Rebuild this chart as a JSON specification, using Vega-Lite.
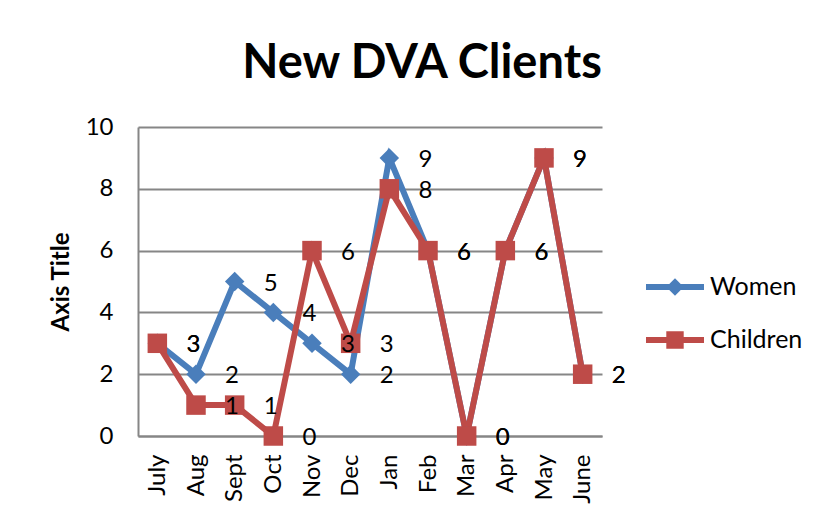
{
  "$schema": "https://vega.github.io/schema/vega-lite/v6.json",
  "width": 464,
  "height": 309,
  "autosize": {"type": "none"},
  "padding": {"left": 138, "top": 127, "right": 232, "bottom": 88},
  "background": "white",
  "title": {"text": "New DVA Clients", "font": "Lato", "fontSize": 47, "fontWeight": "bold", "color": "black", "anchor": "middle", "dx": 52, "offset": 27},
  "config": {
    "view": {"stroke": null},
    "font": "Lato",
    "text": {"font": "Lato"}
  },
  "data": {
    "values": [
      {"month": "July", "series": "Women", "value": 3},
      {"month": "Aug", "series": "Women", "value": 2},
      {"month": "Sept", "series": "Women", "value": 5},
      {"month": "Oct", "series": "Women", "value": 4},
      {"month": "Nov", "series": "Women", "value": 3},
      {"month": "Dec", "series": "Women", "value": 2},
      {"month": "Jan", "series": "Women", "value": 9},
      {"month": "Feb", "series": "Women", "value": 6},
      {"month": "Mar", "series": "Women", "value": 0},
      {"month": "Apr", "series": "Women", "value": 6},
      {"month": "May", "series": "Women", "value": 9},
      {"month": "June", "series": "Women", "value": 2},
      {"month": "July", "series": "Children", "value": 3},
      {"month": "Aug", "series": "Children", "value": 1},
      {"month": "Sept", "series": "Children", "value": 1},
      {"month": "Oct", "series": "Children", "value": 0},
      {"month": "Nov", "series": "Children", "value": 6},
      {"month": "Dec", "series": "Children", "value": 3},
      {"month": "Jan", "series": "Children", "value": 8},
      {"month": "Feb", "series": "Children", "value": 6},
      {"month": "Mar", "series": "Children", "value": 0},
      {"month": "Apr", "series": "Children", "value": 6},
      {"month": "May", "series": "Children", "value": 9},
      {"month": "June", "series": "Children", "value": 2}
    ]
  },
  "encoding": {
    "x": {
      "field": "month", "type": "ordinal",
      "sort": ["July", "Aug", "Sept", "Oct", "Nov", "Dec", "Jan", "Feb", "Mar", "Apr", "May", "June"],
      "scale": {"type": "point", "padding": 0.5},
      "axis": {"title": null, "labelAngle": -90, "labelFontSize": 24, "labelColor": "black", "labelFont": "Lato", "labelPadding": 18, "ticks": false, "domainColor": "#868686", "domainWidth": 2, "grid": false}
    },
    "y": {
      "field": "value", "type": "quantitative",
      "scale": {"domain": [0, 10], "nice": false},
      "axis": {"title": "Axis Title", "titleFontSize": 24, "titleFont": "Lato", "titleFontWeight": "bold", "titleColor": "black", "titlePadding": 12, "values": [0, 2, 4, 6, 8, 10], "labelFontSize": 24, "labelColor": "black", "labelFont": "Lato", "labelPadding": 25, "ticks": false, "grid": true, "gridColor": "#868686", "gridWidth": 2, "domainColor": "#868686", "domainWidth": 2}
    }
  },
  "layer": [
    {
      "mark": {"type": "line", "strokeWidth": 6},
      "encoding": {
        "color": {
          "field": "series", "type": "nominal",
          "scale": {"domain": ["Women", "Children"], "range": ["#4a7ebb", "#be4b48"]},
          "legend": {
            "title": null, "orient": "none", "legendX": 508, "legendY": 131,
            "labelFontSize": 25, "labelFont": "Lato", "labelColor": "black", "labelOffset": 6,
            "symbolSize": 3364, "rowPadding": 11,
            "encode": {
              "symbols": {
                "update": {
                  "shape": {"signal": "datum.value === 'Women' ? 'M-1,-0.1H1V0.1H-1Z M0,-0.3L0.3,0L0,0.3L-0.3,0Z' : 'M-1,-0.1H1V0.1H-1Z M-0.3,-0.3H0.3V0.3H-0.3Z'"},
                  "fill": {"signal": "datum.value === 'Women' ? '#4a7ebb' : '#be4b48'"},
                  "strokeWidth": {"value": 0},
                  "opacity": {"value": 1}
                }
              }
            }
          }
        }
      }
    },
    {
      "transform": [{"filter": "datum.series === 'Women'"}],
      "mark": {"type": "point", "filled": true, "size": 380, "opacity": 1, "shape": "diamond", "color": "#4a7ebb"}
    },
    {
      "transform": [{"filter": "datum.series === 'Children'"}],
      "mark": {"type": "point", "filled": true, "size": 380, "opacity": 1, "shape": "square", "color": "#be4b48"}
    },
    {
      "mark": {"type": "text", "dx": 36, "dy": 2, "fontSize": 24, "font": "Lato", "color": "black", "baseline": "middle", "align": "center"},
      "encoding": {"text": {"field": "value", "type": "quantitative"}}
    }
  ]
}
